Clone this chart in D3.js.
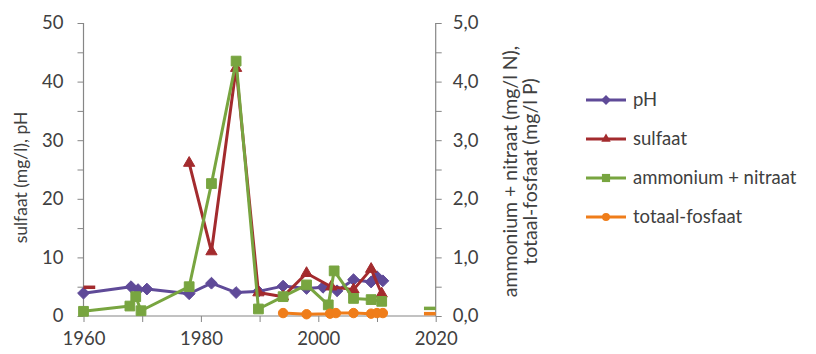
<!DOCTYPE html>
<html><head><meta charset="utf-8">
<script src="https://cdn.jsdelivr.net/npm/d3@7"></script>
<style>body{margin:0;background:#fff}svg{display:block}text{font-family:Lato,"Open Sans",sans-serif;fill:#404040}</style>
</head><body><svg id="c" width="816" height="354"></svg>
<script>
// Data (decimal years)
const phYears = [1960, 1968.1, 1969.3, 1970.8, 1978, 1981.8, 1986, 1989.8, 1994, 1998, 2000.8, 2003.2, 2006, 2009, 2010, 2011];
const phValues = [3.9, 5.0, 4.5, 4.6, 3.8, 5.6, 4.0, 4.2, 5.1, 4.7, 4.9, 4.3, 6.2, 5.8, 6.7, 6.0];
const sulfaatYears = [1978, 1981.8, 1986, 1989.8, 1994, 1998, 2002.2, 2006, 2009, 2010.8];
const sulfaatValues = [26.1, 11.0, 42.3, 4.0, 3.3, 7.3, 5.0, 4.5, 8.0, 3.8];
const ammoniumYears = [1960, 1967.9, 1968.9, 1969.8, 1978, 1981.8, 1986, 1989.8, 1994, 1998, 2001.7, 2002.7, 2006, 2009, 2010.8];
const ammoniumValues = [0.08, 0.17, 0.33, 0.09, 0.50, 2.26, 4.35, 0.12, 0.33, 0.53, 0.19, 0.77, 0.30, 0.28, 0.25];
const fosfaatYears = [1994, 1998, 2002, 2003, 2006, 2009, 2010, 2011];
const fosfaatValues = [0.05, 0.03, 0.04, 0.05, 0.05, 0.04, 0.05, 0.05];
// short unmarked line fragments at the plot edges
const sulfaatEdge = [[1960, 4.9], [1962, 4.9]];
const ammoniumEdge = [[2018, 0.13], [2020, 0.13]];
const fosfaatEdge = [[2018, 0.04], [2020, 0.04]];
const xTicks = [1960, 1970, 1980, 1990, 2000, 2010, 2020];
const xLabels = [1960, 1980, 2000, 2020];
const leftTicks = [0, 5, 10, 15, 20, 25, 30, 35, 40, 45, 50];
const leftLabels = [0, 10, 20, 30, 40, 50];
const rightTicks = [0, 0.5, 1, 1.5, 2, 2.5, 3, 3.5, 4, 4.5, 5];
const rightLabels = [0, 1, 2, 3, 4, 5];
const seriesNames = ["pH", "sulfaat", "ammonium + nitraat", "totaal-fosfaat"];
const colors = ["#5f4a98", "#a32b2e", "#78a540", "#ef7d1a"];

const svg = d3.select("#c");
const L = 83.5, R = 435.7, T = 23, B = 316;
const x = d3.scaleLinear().domain([1960, 2020]).range([L, R]);
const yL = d3.scaleLinear().domain([0, 50]).range([B, T]);
const yR = d3.scaleLinear().domain([0, 5]).range([B, T]);
const axisCol = "#868686";

// axes
const xAx = svg.append("g").attr("transform", `translate(0,${B})`)
  .call(d3.axisBottom(x).tickValues(xTicks).tickSize(6).tickFormat(d => xLabels.includes(d) ? d : ""));
const lAx = svg.append("g").attr("transform", `translate(${L},0)`)
  .call(d3.axisLeft(yL).tickValues(leftTicks).tickSize(6).tickFormat(d => leftLabels.includes(d) ? d : ""));
const rAx = svg.append("g").attr("transform", `translate(${R},0)`)
  .call(d3.axisRight(yR).tickValues(rightTicks).tickSize(6).tickFormat(d => rightLabels.includes(d) ? d3.format(".1f")(d).replace(".", ",") : ""));
[xAx, lAx, rAx].forEach(g => {
  g.select(".domain").attr("stroke", axisCol).attr("stroke-width", 1.2);
  g.selectAll(".tick line").attr("stroke", axisCol);
  g.selectAll(".tick text").style("font-size", "18.5px").attr("fill", "#404040");
});
xAx.selectAll(".domain").attr("d", `M${L},0H${R}`);
lAx.select(".domain").attr("d", `M0,${T}V${B}`);
rAx.select(".domain").attr("d", `M0,${T}V${B}`);
xAx.selectAll(".tick text").attr("dy", "1.1em");
lAx.selectAll(".tick text").attr("x", -20);
rAx.selectAll(".tick text").attr("x", 17);

// axis titles
svg.append("text").attr("transform", `translate(27,${(T + B) / 2 + 8}) rotate(-90)`)
  .attr("text-anchor", "middle").style("font-size", "17.5px").text("sulfaat (mg/l), pH");
svg.append("text").attr("transform", `translate(517,${(T + B) / 2 + 2}) rotate(-90)`)
  .attr("text-anchor", "middle").style("font-size", "19.5px").text("ammonium + nitraat (mg/l N),");
svg.append("text").attr("transform", `translate(537,${(T + B) / 2 + 2}) rotate(-90)`)
  .attr("text-anchor", "middle").style("font-size", "19.5px").text("totaal-fosfaat (mg/l P)");

const plot = svg.append("g");
const line = (ys) => d3.line().x(d => x(d[0])).y(d => ys(d[1]));
const zip = (a, b) => a.map((v, i) => [v, b[i]]);
const squareDiamond = {draw(ctx, size) { const r = Math.sqrt(size / 2); ctx.moveTo(0, -r); ctx.lineTo(r, 0); ctx.lineTo(0, r); ctx.lineTo(-r, 0); ctx.closePath(); }};
const symbols = [squareDiamond, d3.symbolTriangle, d3.symbolSquare, d3.symbolCircle];
const symSizes = [70, 55, 95, 70];
const series = [
  {pts: zip(phYears, phValues), ys: yL, edge: null},
  {pts: zip(sulfaatYears, sulfaatValues), ys: yL, edge: sulfaatEdge},
  {pts: zip(ammoniumYears, ammoniumValues), ys: yR, edge: ammoniumEdge},
  {pts: zip(fosfaatYears, fosfaatValues), ys: yR, edge: fosfaatEdge}
];
series.forEach((s, i) => {
  const g = plot.append("g");
  g.append("path").attr("d", line(s.ys)(s.pts)).attr("fill", "none")
    .attr("stroke", colors[i]).attr("stroke-width", 3).attr("stroke-linejoin", "round");
  if (s.edge) g.append("path").attr("d", line(s.ys)(s.edge)).attr("fill", "none")
    .attr("stroke", colors[i]).attr("stroke-width", 3.5);
  g.selectAll("path.m").data(s.pts).join("path").attr("class", "m")
    .attr("transform", d => `translate(${x(d[0])},${s.ys(d[1])})`)
    .attr("d", d3.symbol().type(symbols[i]).size(symSizes[i])())
    .attr("fill", colors[i]).attr("stroke", colors[i]).attr("stroke-width", 1);
});

// legend
const lg = svg.append("g");
seriesNames.forEach((n, i) => {
  const yy = 100 + i * 39;
  lg.append("line").attr("x1", 586).attr("x2", 626).attr("y1", yy).attr("y2", yy)
    .attr("stroke", colors[i]).attr("stroke-width", 3);
  lg.append("path").attr("transform", `translate(606,${yy})`)
    .attr("d", d3.symbol().type(symbols[i]).size(symSizes[i] * 0.7)()).attr("fill", colors[i]);
  lg.append("text").attr("x", 633).attr("y", yy + 6).style("font-size", "18.5px").text(n);
});
</script></body></html>
